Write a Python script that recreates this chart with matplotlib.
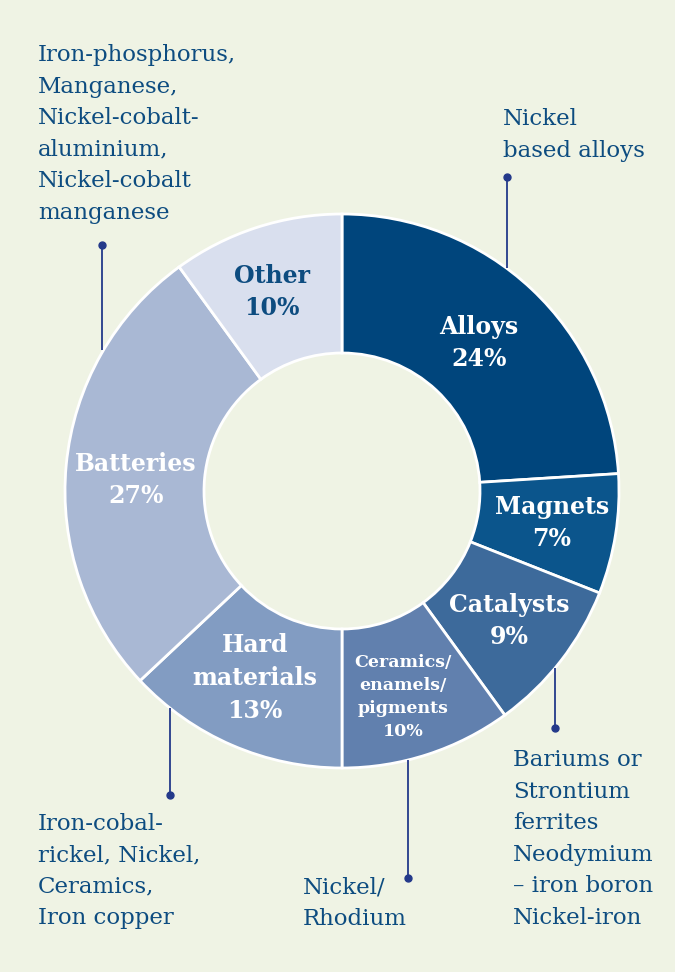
import matplotlib
matplotlib.use("Agg")
import matplotlib.pyplot as plt

# ---- data ----
categories = ["Alloys", "Magnets", "Catalysts", "Ceramics/\nenamels/\npigments",
              "Hard\nmaterials", "Batteries", "Other"]
values = [24, 7, 9, 10, 13, 27, 10]
colors = ["#00457c", "#0b558c", "#3d6a9b", "#6180ae", "#829cc2", "#a9b8d4", "#d9dfee"]
label_colors = ["white", "white", "white", "white", "white", "white", "#0d4c80"]

notes = [
    "Iron-phosphorus,\nManganese,\nNickel-cobalt-\naluminium,\nNickel-cobalt\nmanganese",
    "Nickel\nbased alloys",
    "Bariums or\nStrontium\nferrites\nNeodymium\n\u2013 iron boron\nNickel-iron",
    "Nickel/\nRhodium",
    "Iron-cobal-\nrickel, Nickel,\nCeramics,\nIron copper",
]

W, H = 675, 972
BG = "#eff3e4"
TXT = "#0d4c80"
LEAD = "#23398a"

fig = plt.figure(figsize=(W / 100, H / 100), dpi=100, facecolor=BG)
ax = fig.add_axes([0, 0, 1, 1])

def Y(y):
    return H - y

cx, cy, R = 342, Y(491), 277
wedges, _ = ax.pie(values, colors=colors, startangle=90, counterclock=False,
                   center=(cx, cy), radius=R, frame=True,
                   wedgeprops=dict(width=R - 138, edgecolor="white", linewidth=2))
ax.set_xlim(0, W)
ax.set_ylim(0, H)
ax.set_aspect("equal")
ax.axis("off")

# ---- slice labels ----
fam = ["DejaVu Serif"]
label_pos = [(479, 343), (552, 523), (509, 621), (403, 697), (255, 678), (136, 480), (272, 292)]
for cat, v, (x, y), c in zip(categories, values, label_pos, label_colors):
    small = cat.startswith("Ceramics")
    ax.text(x, Y(y), f"{cat}\n{v}%", ha="center", va="center", color=c,
            fontsize=12.5 if small else 17, fontweight="bold", family=fam,
            linespacing=1.45 if small else 1.46)

# ---- annotations ----
note_pos = [(38, 134), (503, 135), (513, 839), (303, 903), (38, 871)]
for t, (x, y) in zip(notes, note_pos):
    ax.text(x, Y(y), t, ha="left", va="center", color=TXT, fontsize=16.5,
            family=fam, linespacing=1.56)

# leader lines: (x, y_dot, y_edge)
leaders = [(102, 245, 350), (507, 177, 268), (555, 728, 668), (408, 878, 760), (170, 795, 708)]
for x, yd, ye in leaders:
    ax.plot([x, x], [Y(yd), Y(ye)], color=LEAD, lw=1.3, solid_capstyle="butt")
    ax.plot([x], [Y(yd)], "o", color=LEAD, ms=5)

fig.savefig("out.png", dpi=100, facecolor=BG)
